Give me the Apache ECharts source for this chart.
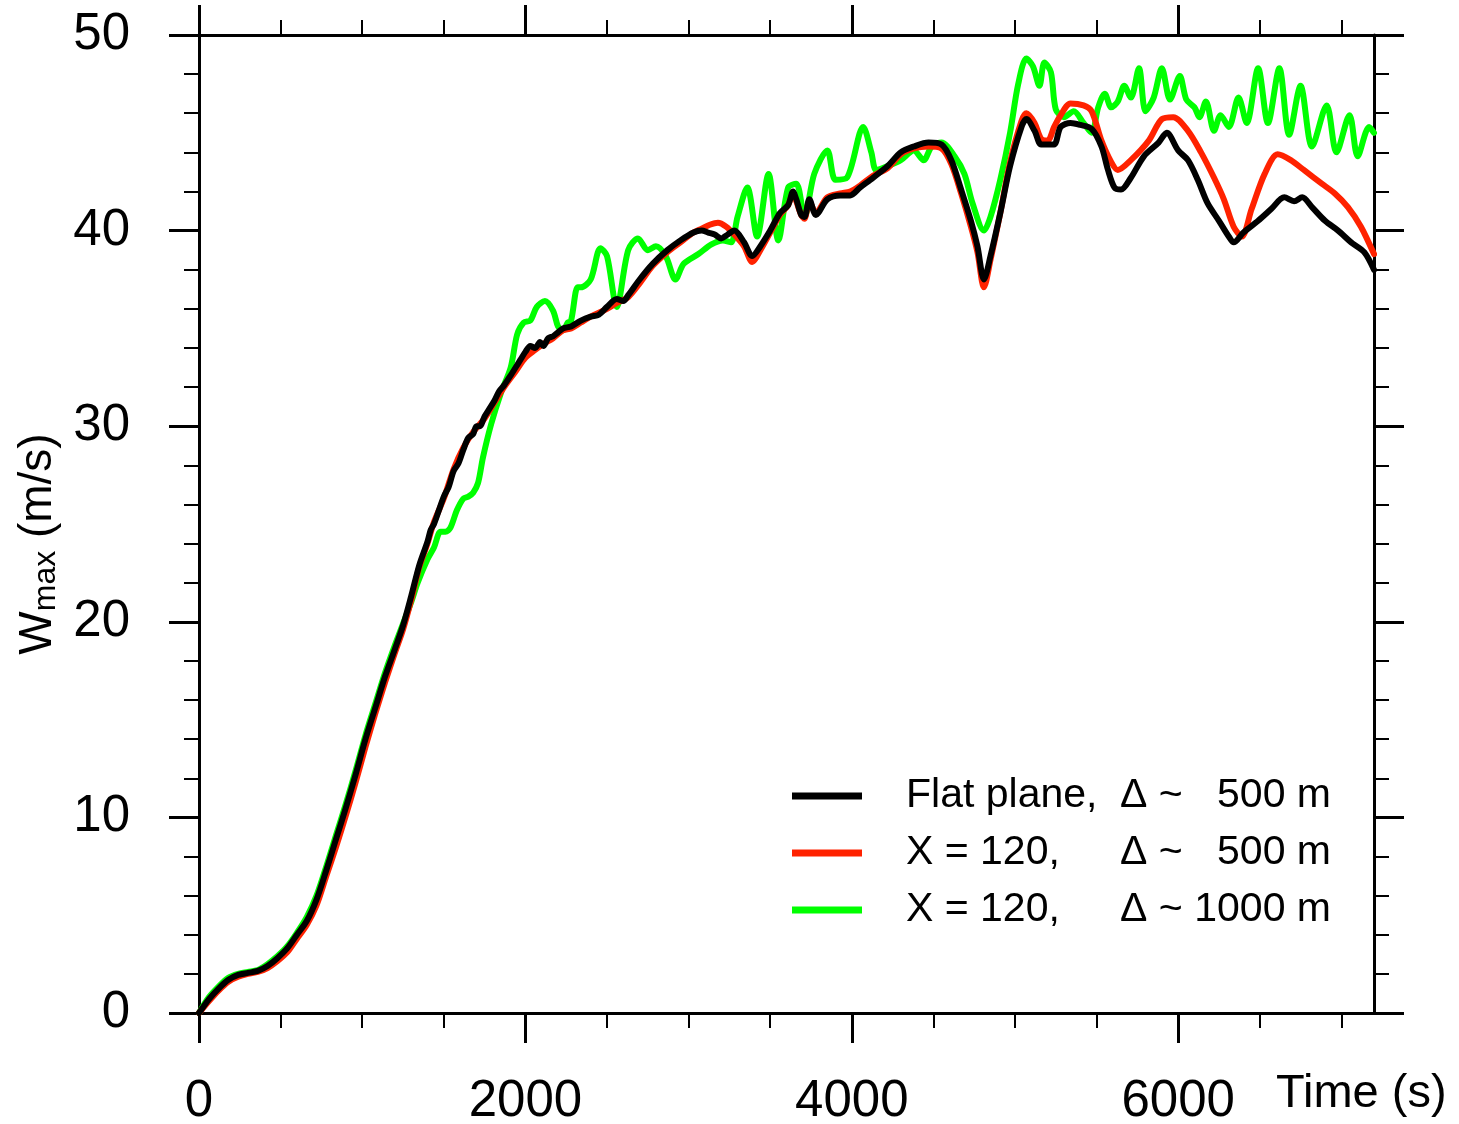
<!DOCTYPE html>
<html>
<head>
<meta charset="utf-8">
<title>Wmax time series</title>
<script src="https://cdn.jsdelivr.net/npm/echarts@6/dist/echarts.min.js"></script>
<style>
  html, body { margin: 0; padding: 0; background: #ffffff; }
  #chart { width: 1459px; height: 1124px; }
</style>
</head>
<body>
<div id="chart"></div>
<script>
// Maximum vertical velocity (m/s) against simulation time (s)

const timeFlat = [0,60,120,180,240,300,360,420,480,540,600,660,720,780,840,900,960,1020,1080,1140,1200,1250,1300,1350,1400,1420,1440,1470,1500,1530,1560,1590,1620,1650,1680,1700,1720,1750,1780,1810,1840,1870,1910,1940,1970,2000,2030,2060,2090,2110,2140,2170,2200,2230,2280,2340,2400,2450,2500,2560,2600,2630,2700,2780,2870,2950,3030,3080,3120,3160,3200,3240,3280,3340,3390,3440,3500,3560,3610,3640,3660,3690,3710,3740,3780,3850,3930,3990,4050,4130,4220,4300,4380,4470,4550,4610,4670,4730,4770,4810,4850,4910,4970,5040,5070,5120,5160,5200,5240,5280,5340,5400,5470,5530,5570,5610,5650,5710,5790,5880,5930,6000,6060,6120,6180,6250,6310,6340,6400,6490,6570,6650,6710,6760,6820,6900,6980,7060,7140,7200];
const wFlat = [0,0.7,1.25,1.7,1.95,2.05,2.15,2.4,2.8,3.3,4.0,4.7,5.8,7.3,8.9,10.5,12.2,14.0,15.6,17.2,18.6,19.8,21.3,22.9,24.1,24.7,25.0,25.7,26.4,26.9,27.7,28.1,28.8,29.4,29.6,30.0,30.0,30.5,30.9,31.3,31.8,32.1,32.6,33.0,33.4,33.8,34.1,34.0,34.3,34.1,34.5,34.6,34.8,35.0,35.1,35.4,35.6,35.7,36.1,36.5,36.4,36.7,37.5,38.3,39.0,39.5,39.9,40.0,39.9,39.8,39.6,39.8,40.0,39.4,38.7,39.2,40.0,40.9,41.3,42.0,41.6,40.8,40.7,41.6,40.8,41.6,41.8,41.8,42.2,42.7,43.3,44.0,44.3,44.5,44.4,43.6,42.1,40.5,39.2,37.5,38.7,40.9,43.3,45.3,45.7,45.1,44.4,44.4,44.4,45.3,45.5,45.4,45.2,44.3,43.1,42.2,42.1,42.7,43.8,44.5,45.0,44.1,43.6,42.6,41.4,40.5,39.7,39.4,39.9,40.5,41.1,41.7,41.5,41.7,41.2,40.5,40.0,39.4,38.9,38.0];

const timeX500 = [0,60,120,180,240,300,360,420,480,540,600,660,720,780,840,900,960,1020,1080,1140,1200,1250,1300,1350,1400,1440,1500,1560,1620,1680,1750,1810,1870,1940,2000,2060,2110,2170,2230,2280,2340,2400,2500,2560,2630,2700,2780,2870,2950,3030,3080,3130,3180,3230,3280,3340,3390,3440,3500,3560,3610,3640,3660,3690,3710,3740,3780,3850,3930,3990,4050,4130,4220,4300,4380,4470,4550,4610,4670,4730,4770,4810,4850,4910,4970,5040,5070,5120,5160,5200,5240,5280,5340,5420,5470,5530,5590,5630,5710,5820,5900,5970,6060,6140,6220,6280,6340,6390,6450,6530,6610,6690,6770,6880,6960,7040,7120,7200];
const wX500 = [0,0.6,1.15,1.6,1.85,2.0,2.1,2.3,2.65,3.1,3.8,4.5,5.5,7.0,8.5,10.1,11.8,13.6,15.3,16.9,18.4,19.6,21.1,22.8,24.0,25.1,26.3,27.8,28.9,29.7,30.4,31.2,32.0,32.8,33.5,33.9,34.2,34.5,34.9,35.0,35.3,35.6,36.0,36.3,36.6,37.3,38.2,38.9,39.4,39.9,40.1,40.3,40.4,40.2,39.8,39.2,38.4,39.0,39.9,40.8,41.3,41.9,41.5,40.8,40.6,41.5,40.9,41.7,41.9,42.0,42.3,42.8,43.2,43.9,44.2,44.3,44.2,43.4,41.9,40.2,38.9,37.1,38.5,40.9,43.5,45.6,46.0,45.5,44.7,44.6,45.3,45.9,46.5,46.4,46.1,44.6,43.5,43.1,43.6,44.6,45.7,45.8,45.1,44.0,42.7,41.6,40.2,39.7,41.1,42.9,43.9,43.6,43.1,42.4,41.9,41.2,40.2,38.8];

const timeX1000 = [0,60,120,180,240,300,360,420,480,540,600,660,720,780,840,900,960,1020,1080,1140,1200,1250,1300,1340,1400,1440,1480,1510,1540,1580,1620,1650,1680,1710,1740,1790,1850,1910,1950,1990,2030,2070,2120,2170,2200,2230,2260,2280,2320,2340,2400,2460,2500,2560,2630,2690,2750,2800,2860,2920,2970,3060,3140,3210,3260,3300,3360,3420,3490,3550,3610,3660,3710,3770,3850,3900,3970,4070,4120,4150,4220,4300,4380,4440,4490,4550,4630,4690,4740,4810,4850,4910,4970,5020,5070,5110,5150,5180,5220,5250,5300,5360,5420,5470,5510,5550,5590,5630,5670,5710,5760,5800,5850,5900,5950,6010,6050,6100,6130,6170,6220,6260,6310,6370,6420,6490,6550,6620,6680,6750,6820,6910,6970,7050,7100,7170,7200];
const wX1000 = [0,0.8,1.35,1.8,2.0,2.1,2.2,2.5,2.9,3.4,4.1,4.9,6.0,7.5,9.1,10.7,12.4,14.2,15.8,17.4,18.8,19.9,21.0,22.0,23.2,23.8,24.6,24.6,24.8,25.7,26.3,26.4,26.6,27.1,28.4,30.1,31.7,33.0,34.7,35.3,35.4,36.1,36.4,35.9,35.1,34.9,35.3,35.4,37.1,37.1,37.5,39.1,38.7,36.1,39.0,39.6,39.0,39.2,38.7,37.5,38.3,38.8,39.3,39.5,39.4,40.7,42.2,39.7,42.9,39.5,42.2,42.4,40.7,42.9,44.1,42.6,42.7,45.3,44.0,43.1,43.3,43.6,44.1,43.6,44.3,44.5,43.8,42.9,41.4,40.0,40.7,42.6,45.0,47.5,48.8,48.4,47.4,48.6,48.1,46.2,45.8,46.1,45.5,45.0,46.3,47.0,46.3,46.6,47.4,46.8,48.3,46.1,46.8,48.3,46.7,47.9,46.7,46.3,45.8,46.6,45.1,45.9,45.3,46.8,45.5,48.3,45.5,48.3,44.9,47.4,44.3,46.4,44.0,45.9,43.8,45.3,45.0];

// Axis ticks and labels
const xMajorTicks = [0, 2000, 4000, 6000];
const xMinorTicks = [500, 1000, 1500, 2500, 3000, 3500, 4500, 5000, 5500, 6500, 7000];
const yTickLabels = ['0', '10', '20', '30', '40', '50'];

// Legend text, split into columns
const seriesNames = ['Flat plane', 'X = 120, 500 m', 'X = 120, 1000 m'];
const legendCase = ['Flat plane,', 'X = 120,', 'X = 120,'];
const legendRes = ['500 m', '500 m', '1000 m'];
const seriesColors = ['#000000', '#ff2200', '#00ff00'];

const FONT = '"Liberation Sans", Arial, Helvetica, sans-serif';

function pairs(ts, ws) {
  return ts.map((t, i) => [t, ws[i]]);
}

const chart = echarts.init(document.getElementById('chart'), null, { renderer: 'canvas' });

const axisLineStyle = { color: '#000', width: 3 };

function xAxisDef(position, ticks, len, withLabels, showLine) {
  return {
    type: 'value',
    position: position,
    min: 0,
    max: 7200,
    axisLine: { show: showLine, onZero: false, lineStyle: axisLineStyle },
    axisTick: {
      show: true,
      inside: false,
      length: len,
      customValues: ticks,
      lineStyle: { color: '#000', width: len > 20 ? 3 : 2 }
    },
    axisLabel: withLabels ? {
      show: true,
      customValues: xMajorTicks,
      fontSize: 51,
      fontFamily: FONT,
      color: '#000',
      margin: 63,
      formatter: (v) => String(Math.round(v))
    } : { show: false },
    splitLine: { show: false }
  };
}

function yAxisDef(position, withLabels) {
  const def = {
    type: 'value',
    position: position,
    min: 0,
    max: 50,
    interval: 10,
    axisLine: { show: true, onZero: false, lineStyle: axisLineStyle },
    axisTick: { show: true, inside: false, length: 30, lineStyle: { color: '#000', width: 3 } },
    minorTick: { show: true, splitNumber: 5, length: 15, lineStyle: { color: '#000', width: 2 } },
    axisLabel: withLabels ? {
      show: true,
      fontSize: 51,
      fontFamily: FONT,
      color: '#000',
      margin: 69,
      formatter: (v) => yTickLabels[Math.round(v / 10)]
    } : { show: false },
    splitLine: { show: false },
    minorSplitLine: { show: false }
  };
  if (withLabels) {
    def.name = '{w|W}{s|max}{u| (m/s)}';
    def.nameLocation = 'middle';
    def.nameRotate = 90;
    def.nameGap = 136;
    def.nameTextStyle = {
      fontFamily: FONT,
      color: '#000',
      padding: [0, 40, 0, 0],
      rich: {
        w: { fontSize: 46, fontFamily: FONT, color: '#000' },
        s: { fontSize: 32, fontFamily: FONT, color: '#000', padding: [16, 0, 0, 0], verticalAlign: 'bottom' },
        u: { fontSize: 46, fontFamily: FONT, color: '#000' }
      }
    };
  }
  return def;
}

const order = [2, 1, 0]; // green underneath, black on top
const series = order.map((k) => ({
  name: seriesNames[k],
  type: 'line',
  xAxisIndex: 0,
  yAxisIndex: 0,
  data: pairs([timeFlat, timeX500, timeX1000][k], [wFlat, wX500, wX1000][k]),
  showSymbol: false,
  symbol: 'none',
  smooth: 0.3,
  lineStyle: { color: seriesColors[k], width: 6, join: 'round', cap: 'round' },
  itemStyle: { color: seriesColors[k] },
  z: 3 + (2 - k),
  animation: false
}));

const option = {
  backgroundColor: '#ffffff',
  animation: false,
  grid: { left: 199, right: 85, top: 35, bottom: 111, containLabel: false, outerBoundsMode: 'none' },
  xAxis: [
    xAxisDef('bottom', xMajorTicks, 30, true, true),
    xAxisDef('bottom', xMinorTicks, 15, false, false),
    xAxisDef('top', xMajorTicks, 30, false, true),
    xAxisDef('top', xMinorTicks, 15, false, false)
  ],
  yAxis: [yAxisDef('left', true), yAxisDef('right', false)],
  legend: {
    show: true,
    orient: 'vertical',
    left: 792,
    top: 775,
    padding: 0,
    itemWidth: 70,
    itemHeight: 7,
    itemGap: 15,
    icon: 'rect',
    selectedMode: false,
    data: seriesNames.map((n, i) => ({ name: n, icon: 'rect', itemStyle: { color: seriesColors[i] } })),
    formatter: (name) => {
      const i = seriesNames.indexOf(name);
      return '{g| }{a|' + legendCase[i] + '}{b|\u0394 ~}{c|' + legendRes[i] + '}';
    },
    textStyle: {
      fontFamily: FONT,
      fontSize: 41,
      color: '#000',
      lineHeight: 42,
      rich: {
        g: { width: 39, fontSize: 41 },
        a: { width: 214, fontSize: 41, fontFamily: FONT, color: '#000' },
        b: { width: 62, fontSize: 41, fontFamily: FONT, color: '#000' },
        c: { width: 149, fontSize: 41, fontFamily: FONT, color: '#000', align: 'right' }
      }
    }
  },
  graphic: [{
    type: 'text',
    left: 1276,
    top: 1071,
    style: { text: 'Time (s)', font: '47px ' + FONT, fill: '#000' }
  }],
  series: series
};

chart.setOption(option);
</script>
</body>
</html>
